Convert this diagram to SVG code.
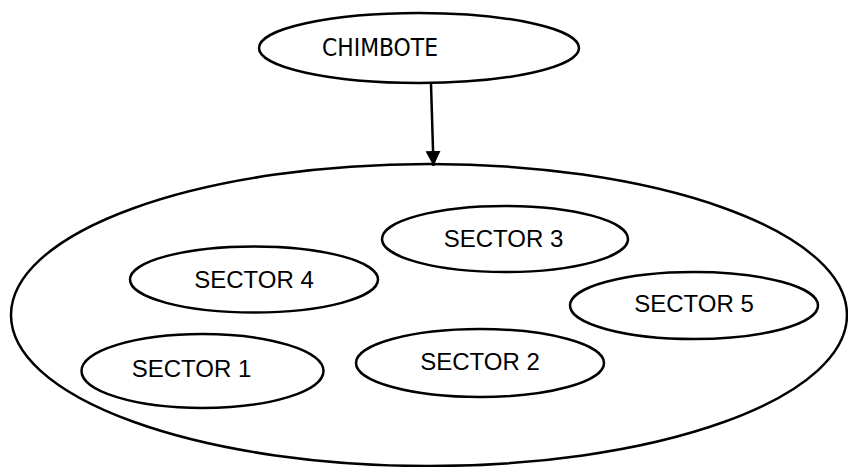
<svg xmlns="http://www.w3.org/2000/svg" width="848" height="467" viewBox="0 0 848 467">
  <style>
    .shape { fill: #ffffff; stroke: #000000; stroke-width: 2.5; }
    .outer { fill: none; stroke: #000000; stroke-width: 2.5; }
    .label { font-family: "Liberation Sans", Arial, sans-serif; font-size: 24px; fill: #000000; }
    .title { font-family: "DejaVu Sans Condensed", "DejaVu Sans", sans-serif; font-size: 25px; fill: #000000; }
    .link { fill: none; stroke: #000000; stroke-width: 2.5; }
  </style>
  <defs>
    <marker id="arrowhead" markerUnits="userSpaceOnUse" markerWidth="16" markerHeight="16" viewBox="0 0 16 16" refX="15" refY="8" orient="auto">
      <path d="M0,0.5 L15,8 L0,15.5 Z" fill="#000000"/>
    </marker>
  </defs>

  <rect width="848" height="467" fill="#ffffff"/>

  <!-- city region containing the sectors -->
  <g id="region">
    <ellipse class="outer" cx="429" cy="315" rx="418" ry="151"/>
  </g>

  <g id="chimbote">
    <ellipse class="shape" cx="419" cy="48" rx="160" ry="35"/>
    <text class="title" x="322" y="56" textLength="116" lengthAdjust="spacingAndGlyphs">CHIMBOTE</text>
  </g>

  <g id="connectors">
    <line class="link" x1="431" y1="84" x2="433.5" y2="166" marker-end="url(#arrowhead)"/>
  </g>

  <g id="sector3">
    <ellipse class="shape" cx="505" cy="239" rx="123" ry="33"/>
    <text class="label" x="503.5" y="246.5" text-anchor="middle">SECTOR 3</text>
  </g>

  <g id="sector4">
    <ellipse class="shape" cx="254" cy="279.5" rx="124" ry="33"/>
    <text class="label" x="254" y="287.5" text-anchor="middle">SECTOR 4</text>
  </g>

  <g id="sector5">
    <ellipse class="shape" cx="694" cy="305.5" rx="124" ry="33.5"/>
    <text class="label" x="694" y="312.3" text-anchor="middle">SECTOR 5</text>
  </g>

  <g id="sector1">
    <ellipse class="shape" cx="202.5" cy="371" rx="121" ry="37"/>
    <text class="label" x="191.5" y="377" text-anchor="middle">SECTOR 1</text>
  </g>

  <g id="sector2">
    <ellipse class="shape" cx="480" cy="363" rx="124" ry="34"/>
    <text class="label" x="480" y="370" text-anchor="middle">SECTOR 2</text>
  </g>
</svg>
